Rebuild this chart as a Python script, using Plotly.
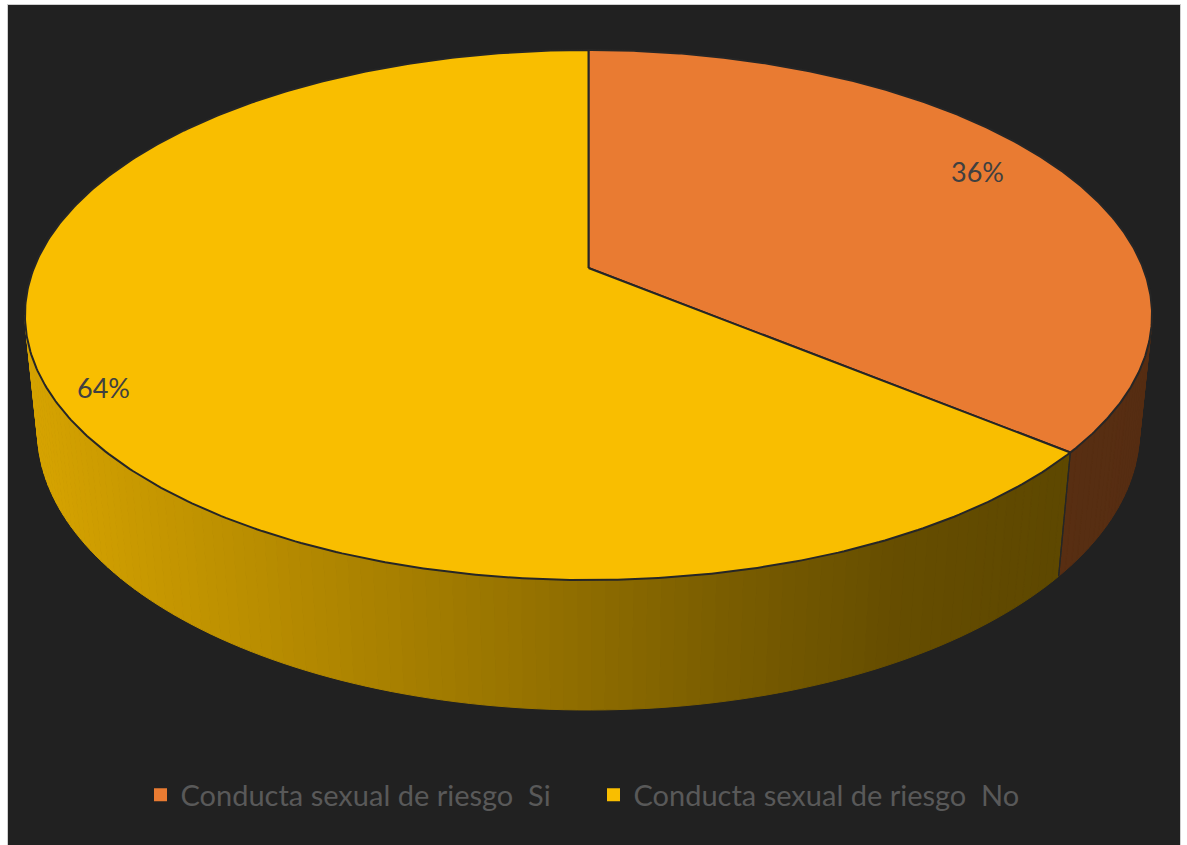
import numpy as np
import plotly.graph_objects as go

# ---- data -------------------------------------------------------------
categories = ["Conducta sexual de riesgo  Si", "Conducta sexual de riesgo  No"]
values = [36, 64]
value_labels = ["36%", "64%"]

# ---- styling ------------------------------------------------------------
top_colors = ["#E97B32", "#F9BE00"]
base_rgb = [(233, 123, 50), (249, 190, 0)]
edge_color = "#262626"
bg_color = "#212121"
label_color = "#404040"
legend_color = "#595959"
label_radius = [0.852, 0.915]
label_shift_deg = 2.9

W, H = 1187, 845
# perspective parameters of the 3-D disc (pixel space)
CX, CY = 588.5, 268.0
A, B = 554.6, 256.7
K = 0.1774      # depth foreshortening
M = 0.022       # extra depth of the bottom face
C = 116.6       # thickness of the disc


def project(theta_deg, level=0.0, r=1.0):
    t = np.radians(theta_deg)
    s, c = np.sin(t), np.cos(t)
    w = 1 + K * r * s + M * level
    x = CX + A * r * c / w
    y = CY - (B * r * s - C * level) / w
    return x, y


def shade(x):
    return np.interp(x, [30, 480, 730, 900, 1060, 1160],
                     [0.86, 0.63, 0.49, 0.41, 0.38, 0.37])


total = float(sum(values))
cum = np.cumsum([0] + values) / total * 360.0
starts = 90.0 - cum[:-1]   # slices run clockwise from 12 o'clock
ends = 90.0 - cum[1:]

# visible (front) part of the rim: between the two silhouette angles
theta_right = -np.degrees(np.arcsin(K))
theta_left = -180.0 - theta_right

fig = go.Figure()

# ---- side walls, drawn as thin shaded strips ----------------------------
for i in range(len(values)):
    lo, hi = ends[i], starts[i]
    for shift in (-360.0, 0.0, 360.0):
        a = max(lo + shift, theta_left)
        b = min(hi + shift, theta_right)
        if b <= a:
            continue
        n = max(2, int(np.ceil((b - a) / 1.2)) + 1)
        ts = np.linspace(b, a, n)
        for t0, t1 in zip(ts[:-1], ts[1:]):
            x0t, y0t = project(t0, 0)
            x1t, y1t = project(t1, 0)
            x0b, y0b = project(t0, 1)
            x1b, y1b = project(t1, 1)
            f = shade((x0t + x1t) / 2)
            r, g, bb = base_rgb[i]
            col = f"rgb({int(r*f)},{int(g*f)},{int(bb*f)})"
            fig.add_trace(go.Scatter(
                x=[x0t, x1t, x1b, x0b, x0t], y=[y0t, y1t, y1b, y0b, y0t],
                mode="lines", fill="toself", fillcolor=col,
                line=dict(color=col, width=1),
                hoverinfo="skip", showlegend=False))

# vertical edges where slices meet on the visible wall
for ang in list(starts) + list(ends):
    a = ((ang - theta_left) % 360.0) + theta_left
    if theta_left < a < theta_right:
        xt, yt = project(a, 0)
        xb, yb = project(a, 1)
        fig.add_trace(go.Scatter(x=[xt, xb], y=[yt, yb], mode="lines",
                                 line=dict(color=edge_color, width=1.2),
                                 hoverinfo="skip", showlegend=False))

# ---- top faces ----------------------------------------------------------
for i in range(len(values)):
    ts = np.linspace(starts[i], ends[i], 400)
    xr, yr = project(ts, 0)
    xs = np.concatenate([[CX], xr, [CX]])
    ys = np.concatenate([[CY], yr, [CY]])
    fig.add_trace(go.Scatter(
        x=xs, y=ys, mode="lines", fill="toself", fillcolor=top_colors[i],
        line=dict(color=edge_color, width=2), hoverinfo="skip",
        showlegend=False))

# ---- value labels -------------------------------------------------------
for i in range(len(values)):
    mid = (starts[i] + ends[i]) / 2 + label_shift_deg
    lx, ly = project(mid, 0, label_radius[i])
    fig.add_annotation(x=lx, y=ly, text=value_labels[i], showarrow=False,
                       font=dict(family="Lato", size=27, color=label_color),
                       xanchor="center", yanchor="middle")

# ---- legend entries -----------------------------------------------------
for i in range(len(values)):
    fig.add_trace(go.Scatter(
        x=[None], y=[None], mode="markers", name=categories[i],
        marker=dict(symbol="square", size=13, color=top_colors[i])))

# dark chart area with a light frame
fig.add_shape(type="rect", xref="x", yref="y", x0=7.5, x1=1180.5,
              y0=4.5, y1=860, fillcolor=bg_color,
              line=dict(color="#cfcfcf", width=1), layer="below")

fig.update_layout(
    width=W, height=H,
    margin=dict(l=0, r=0, t=0, b=0),
    paper_bgcolor="white", plot_bgcolor="white",
    xaxis=dict(range=[0, W], visible=False, fixedrange=True),
    yaxis=dict(range=[H, 0], visible=False, fixedrange=True),
    showlegend=True,
    legend=dict(orientation="h", x=0.5, xanchor="center",
                y=1 - 795 / H, yanchor="middle",
                bgcolor="rgba(0,0,0,0)",
                font=dict(family="Lato", size=29, color=legend_color),
                itemwidth=30, entrywidth=408, entrywidthmode="pixels"),
)

fig.write_html("out.html")
